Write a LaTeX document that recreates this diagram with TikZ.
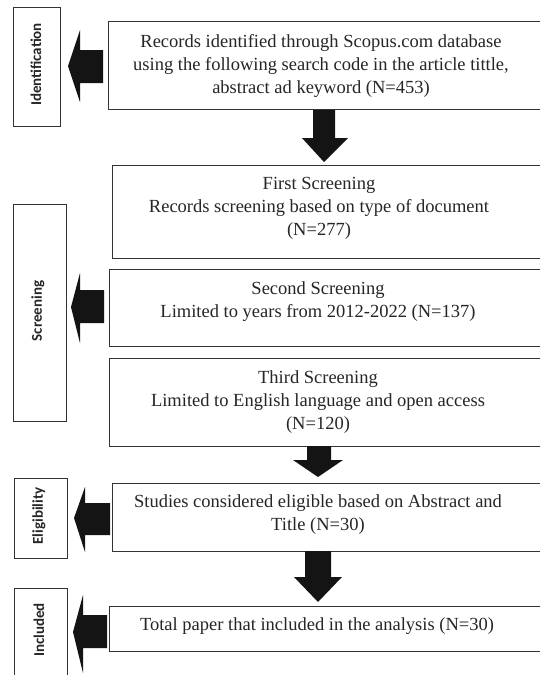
\documentclass[tikz,border=0pt]{standalone}
\usepackage{fontspec}
\setmainfont{Liberation Serif}
\newfontfamily\labelfont{Carlito}
\begin{document}
\begin{tikzpicture}[x=1pt,y=-1pt,
  box/.style={draw=black!80, line width=1.1pt, rectangle, inner sep=0pt, anchor=north west},
  txt/.style={align=center, font=\fontsize{18.5}{23}\selectfont, text=black!85, inner sep=0pt},
  lbl/.style={rotate=90, font=\labelfont\bfseries\fontsize{15}{18}\selectfont, text=black!85, inner sep=0pt},
  blk/.style={fill=black!92, draw=none}]
\clip (0,0) rectangle (540,675);
\fill[white] (0,0) rectangle (540,675);

% stage label boxes
\node[box, minimum width=47pt, minimum height=119pt] (sId) at (13,7) {};
\node[box, minimum width=53pt, minimum height=217pt] (sSc) at (13,204) {};
\node[box, minimum width=53pt, minimum height=80pt] (sEl) at (14,478) {};
\node[box, minimum width=53pt, minimum height=110pt] (sIn) at (14,588) {};
\node[lbl] (lId) at (36,64.5) {Identification};
\node[lbl] (lSc) at (38,311) {Screening};
\node[lbl] (lEl) at (39,516) {Eligibility};
\node[lbl] (lIn) at (39,630) {Included};

% content boxes
\node[box, minimum width=452pt, minimum height=88pt] (b1) at (108,21) {};
\node[box, minimum width=448pt, minimum height=93pt] (b2) at (112,165) {};
\node[box, minimum width=451pt, minimum height=77pt] (b3) at (109,269) {};
\node[box, minimum width=451pt, minimum height=88pt] (b4) at (109,358) {};
\node[box, minimum width=448pt, minimum height=68pt] (b5) at (112,483) {};
\node[box, minimum width=451pt, minimum height=45pt] (b6) at (109,606) {};

\node[txt] (t1) at (321,66) {Records identified through Scopus.com database\\using the following search code in the article tittle,\\abstract ad keyword (N=453)};
\node[txt] (t2) at (319,208) {First Screening\\Records screening based on type of document\\(N=277)};
\node[txt] (t3) at (318,302) {Second Screening\\Limited to years from 2012-2022 (N=137)};
\node[txt] (t4) at (318,402.5) {Third Screening\\Limited to English language and open access\\(N=120)};
\node[txt] (t5) at (318,515) {Studies considered eligible based on Abstract and\\Title (N=30)};
\node[txt] (t6) at (317,626) {Total paper that included in the analysis (N=30)};

% left block arrows
\fill[blk] (103,50) -- (80,50) -- (80,30) -- (68,66) -- (80,102) -- (80,83) -- (103,83) -- cycle;
\fill[blk] (104,290) -- (80,290) -- (80,273) -- (71,307) -- (80,343) -- (80,323) -- (104,323) -- cycle;
\fill[blk] (110,503) -- (85,503) -- (85,487) -- (74,518) -- (85,552) -- (85,535) -- (110,535) -- cycle;
\fill[blk] (107,615) -- (83,615) -- (83,595) -- (73,632) -- (83,673) -- (83,648) -- (107,648) -- cycle;

% down block arrows
\fill[blk] (313,110) -- (313,138) -- (302,138) -- (324,162) -- (348,138) -- (335,138) -- (335,110) -- cycle;
\fill[blk] (307,446) -- (307,460) -- (293,460) -- (318,477) -- (343,460) -- (331,460) -- (331,446) -- cycle;
\fill[blk] (305,551) -- (305,577) -- (294,577) -- (318,602) -- (342,577) -- (331,577) -- (331,551) -- cycle;
\end{tikzpicture}
\end{document}
